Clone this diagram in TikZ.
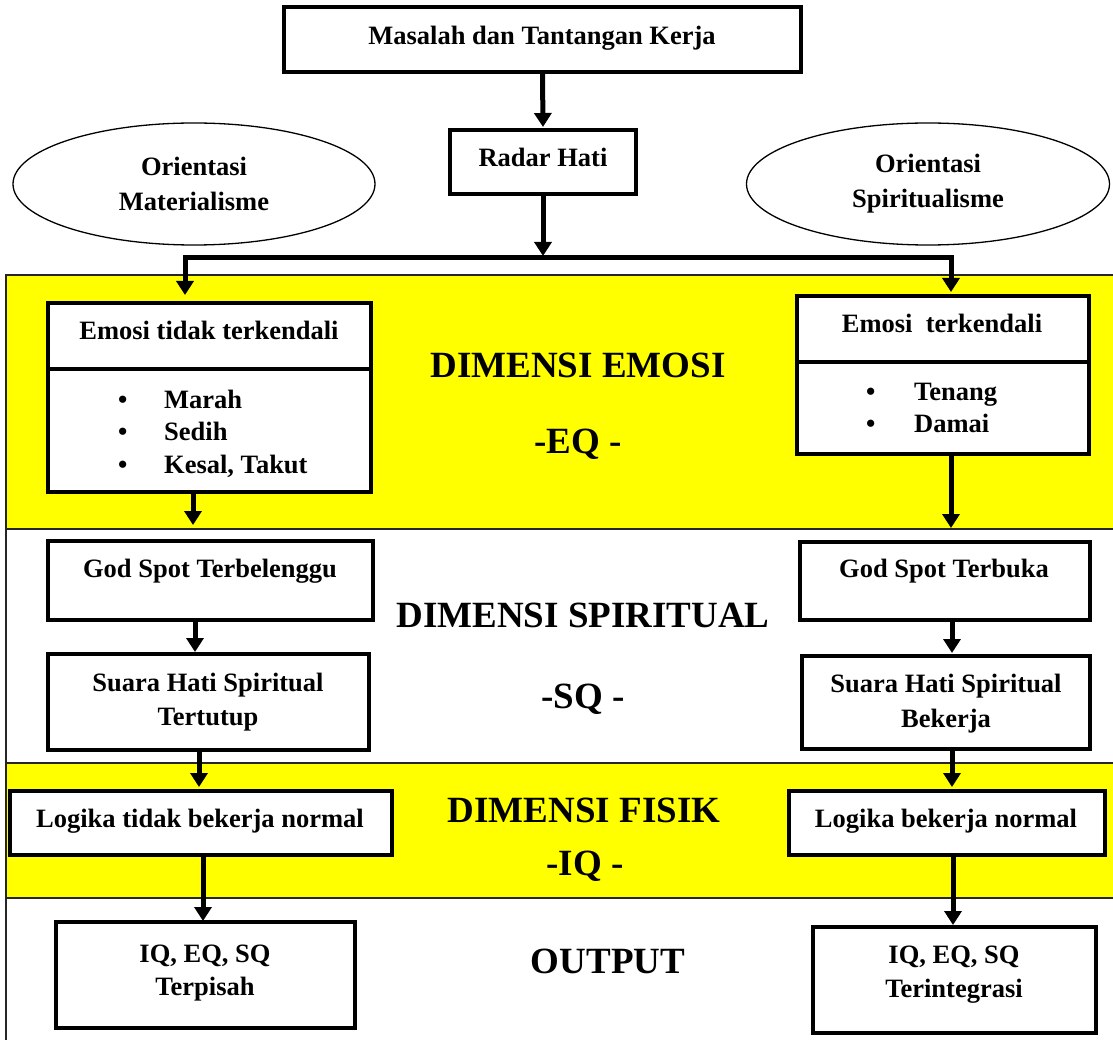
\documentclass[tikz,border=0pt]{standalone}
\usepackage{fontspec}
\setmainfont{Liberation Serif}
\usetikzlibrary{arrows.meta,shapes.geometric}
\definecolor{bandyellow}{RGB}{255,255,0}
\tikzset{
  box/.style={draw=black, line width=4pt, fill=white, inner sep=0pt, outer sep=0pt},
  txt/.style={font=\bfseries\fontsize{26.5}{32.5}\selectfont, inner sep=0pt, anchor=base},
  bigtxt/.style={font=\bfseries\fontsize{37}{44}\selectfont, inner sep=0pt, anchor=base},
  orient/.style={ellipse, draw=black, line width=1.3pt, fill=white, inner sep=0pt,
    font=\bfseries\fontsize{26.5}{32.5}\selectfont, align=center},
  arr/.style={draw=black, line width=5pt, line join=miter,
    -{Triangle[width=17pt,length=14pt]}},
  bandline/.style={draw=black!85, line width=1.5pt}
}
\begin{document}
\begin{tikzpicture}[x=1pt,y=-1pt]
\useasboundingbox (0,0) rectangle (1113,1040);
\fill[white] (0,0) rectangle (1113,1040);
% bands
\fill[bandyellow] (6,275) rectangle (1113,529);
\fill[bandyellow] (6,763) rectangle (1113,898);
\draw[bandline] (1113,275) -- (6,275) -- (6,1040);
\draw[bandline] (6,529) -- (1113,529);
\draw[bandline] (6,763) -- (1113,763);
\draw[bandline] (6,898) -- (1113,898);

% top
\node[box, minimum width=517pt, minimum height=65pt] (masalah) at (542.5,39.5) {};
\node[txt] (masalah-t) at (542,45) {Masalah dan Tantangan Kerja};
\node[box, minimum width=186pt, minimum height=64pt] (radar) at (543,162) {};
\node[txt] (radar-t) at (543,167) {Radar Hati};

% ellipses
\node[orient, minimum width=362pt, minimum height=122pt] (matL) at (194,184) {Orientasi\\[2.5pt]Materialisme};
\node[orient, minimum width=363pt, minimum height=122pt] (spiR) at (928,184) {Orientasi\\[2.5pt]Spiritualisme};

% emotion boxes
\node[box, minimum width=323pt, minimum height=66pt] (emLh) at (209.5,336) {};
\node[box, minimum width=323pt, minimum height=123pt] (emLb) at (209.5,430.5) {};
\node[txt] (emLh-t) at (209,340) {Emosi tidak terkendali};
\node[txt, anchor=base west] (emLb-t) at (118,408) {\parbox[t]{230pt}{\raggedright
  \makebox[46pt][l]{\textbullet}Marah\\
  \makebox[46pt][l]{\textbullet}Sedih\\
  \makebox[46pt][l]{\textbullet}Kesal, Takut}};

\node[box, minimum width=292pt, minimum height=66pt] (emRh) at (943,329) {};
\node[box, minimum width=292pt, minimum height=92pt] (emRb) at (943,408) {};
\node[txt] (emRh-t) at (942,333) {Emosi\ \ terkendali};
\node[txt, anchor=base west] (emRb-t) at (866,400) {\parbox[t]{200pt}{\raggedright
  \makebox[48pt][l]{\textbullet}Tenang\\
  \makebox[48pt][l]{\textbullet}Damai}};

% spiritual boxes
\node[box, minimum width=325pt, minimum height=79pt] (gsL) at (210.5,580.5) {};
\node[txt] (gsL-t) at (210,577) {God Spot Terbelenggu};
\node[box, minimum width=321pt, minimum height=96pt] (suL) at (208.5,702) {};
\node[txt] (suL-t1) at (208,691) {Suara Hati Spiritual};
\node[txt] (suL-t2) at (208,725) {Tertutup};

\node[box, minimum width=290pt, minimum height=78pt] (gsR) at (945,581) {};
\node[txt] (gsR-t) at (944,577) {God Spot Terbuka};
\node[box, minimum width=288pt, minimum height=93pt] (suR) at (946,702.5) {};
\node[txt] (suR-t1) at (946,692) {Suara Hati Spiritual};
\node[txt] (suR-t2) at (946,727) {Bekerja};

% physical boxes
\node[box, minimum width=382pt, minimum height=64pt] (lgL) at (201,823) {};
\node[txt] (lgL-t) at (200,827) {Logika tidak bekerja normal};
\node[box, minimum width=316pt, minimum height=64pt] (lgR) at (947,823) {};
\node[txt] (lgR-t) at (946,827) {Logika bekerja normal};

% output boxes
\node[box, minimum width=299pt, minimum height=106pt] (outL) at (205.5,975) {};
\node[txt] (outL-t1) at (205,962) {IQ, EQ, SQ};
\node[txt] (outL-t2) at (205,995) {Terpisah};
\node[box, minimum width=283pt, minimum height=106pt] (outR) at (954.5,980) {};
\node[txt] (outR-t1) at (954,963) {IQ, EQ, SQ};
\node[txt] (outR-t2) at (954,997) {Terintegrasi};

% dimension labels
\node[bigtxt] (dimE) at (578,377) {DIMENSI EMOSI};
\node[bigtxt] (dimE2) at (578,453) {-EQ -};
\node[bigtxt] (dimS) at (583,627) {DIMENSI SPIRITUAL};
\node[bigtxt] (dimS2) at (583,708) {-SQ -};
\node[bigtxt] (dimF) at (584,822) {DIMENSI FISIK};
\node[bigtxt] (dimF2) at (585,875) {-IQ -};
\node[bigtxt] (outp) at (608,973) {OUTPUT};

% connectors
\coordinate (jm) at (543,258);
\coordinate (aL) at (185,295);
\coordinate (aR) at (951,292);
\draw[arr, shorten >=3pt] (masalah.south) -- (radar.north);
\draw[arr, shorten >=2pt] (radar.south) -- (jm);
\draw[arr] (jm) -| (aL);
\draw[arr] (jm) -| (aR);
\draw[arr, shorten >=16pt] (193,0 |- emLb.south) -- (193,0 |- gsL.north);
\draw[arr, shorten >=14pt] (951,0 |- emRb.south) -- (951,0 |- gsR.north);
\draw[arr, shorten >=2pt] (195,0 |- gsL.south) -- (195,0 |- suL.north);
\draw[arr, shorten >=4pt] (199,0 |- suL.south) -- (199,0 |- lgL.north);
\draw[arr, shorten >=3pt] (952,0 |- gsR.south) -- (952,0 |- suR.north);
\draw[arr, shorten >=4pt] (952,0 |- suR.south) -- (952,0 |- lgR.north);
\draw[arr, shorten >=1pt] (203,0 |- lgL.south) -- (203,0 |- outL.north);
\draw[arr, shorten >=2pt] (953,0 |- lgR.south) -- (953,0 |- outR.north);
\end{tikzpicture}
\end{document}
